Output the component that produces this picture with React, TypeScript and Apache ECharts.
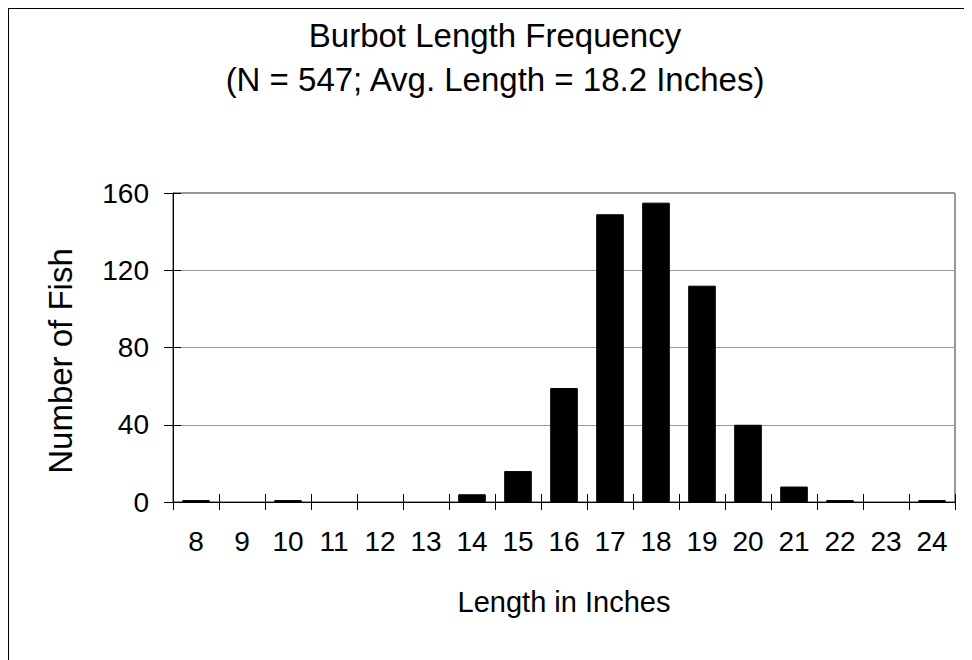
import React, { useEffect, useRef } from "react";
import * as echarts from "echarts";

const titleLines = ["Burbot Length Frequency", "(N = 547; Avg. Length = 18.2 Inches)"];
const categories = ["8", "9", "10", "11", "12", "13", "14", "15", "16", "17", "18", "19", "20", "21", "22", "23", "24"];
const counts = [1, 0, 1, 0, 0, 0, 4, 16, 59, 149, 155, 112, 40, 8, 1, 0, 1];
const yMin = 0;
const yMax = 160;
const yInterval = 40;
const xName = "Length in Inches";
const yName = "Number of Fish";

const FONT = "'Liberation Sans', Arial, Helvetica, sans-serif";

export default function App() {
  const ref = useRef<HTMLDivElement>(null);
  useEffect(() => {
    if (!ref.current) return;
    const chart = echarts.init(ref.current, null, { renderer: "svg" });
    chart.setOption({
      animation: false,
      backgroundColor: "#ffffff",
      title: {
        text: titleLines.join("\n"),
        left: "center",
        top: -1,
        textStyle: {
          fontFamily: FONT,
          fontSize: 33,
          fontWeight: "normal",
          color: "#000",
          lineHeight: 44,
        },
      },
      graphic: [
        {
          type: "text",
          x: 51,
          y: 352,
          rotation: Math.PI / 2,
          style: {
            text: yName,
            fontFamily: FONT,
            fontSize: 33,
            fill: "#000",
            align: "center",
            verticalAlign: "middle",
            textAlign: "center",
            textVerticalAlign: "middle",
          },
        },
      ],
      grid: {
        left: 164,
        right: 26,
        top: 184,
        bottom: 167,
        show: true,
        borderColor: "#333",
        borderWidth: 1,
        backgroundColor: "transparent",
      },
      xAxis: [
        {
          type: "category",
          data: categories,
          position: "bottom",
          offset: 0,
          name: xName,
          nameLocation: "middle",
          nameGap: 85,
          nameTextStyle: { fontFamily: FONT, fontSize: 29, color: "#000" },
          axisLine: { show: true, lineStyle: { color: "#000", width: 1 } },
          axisTick: { show: true, inside: false, length: 8, interval: 0, lineStyle: { color: "#000" } },
          axisLabel: { show: true, interval: 0, margin: 25, fontFamily: FONT, fontSize: 28, color: "#000" },
          splitLine: { show: false },
        },
        {
          type: "category",
          data: categories,
          position: "bottom",
          offset: 0,
          axisLine: { show: false },
          axisTick: { show: true, inside: true, length: 8, interval: 0, lineStyle: { color: "#000" } },
          axisLabel: { show: false },
          splitLine: { show: false },
        },
      ],
      yAxis: [
        {
          type: "value",
          min: yMin,
          max: yMax,
          interval: yInterval,
          position: "left",
          axisLine: { show: true, lineStyle: { color: "#000", width: 1 } },
          axisTick: { show: true, inside: false, length: 9, lineStyle: { color: "#000" } },
          axisLabel: { show: true, margin: 24, fontFamily: FONT, fontSize: 28, color: "#000" },
          splitLine: { show: true, lineStyle: { color: "#999", width: 1 } },
        },
        {
          type: "value",
          min: yMin,
          max: yMax,
          interval: yInterval,
          position: "left",
          offset: 0,
          axisLine: { show: false },
          axisTick: { show: true, inside: true, length: 8, lineStyle: { color: "#000" } },
          axisLabel: { show: false },
          splitLine: { show: false },
        },
      ],
      series: [
        {
          type: "bar",
          xAxisIndex: 0,
          yAxisIndex: 0,
          data: counts.map((v) => ({
            value: v,
            itemStyle: { color: "#000", borderColor: "#000", borderWidth: v > 0 ? 1 : 0 },
          })),
          barWidth: "60%",
          itemStyle: { color: "#000" },
        },
      ],
    });
    return () => chart.dispose();
  }, []);
  return (
    <div
      ref={ref}
      style={{ width: 972, height: 660, border: "1px solid #000" }}
    />
  );
}
